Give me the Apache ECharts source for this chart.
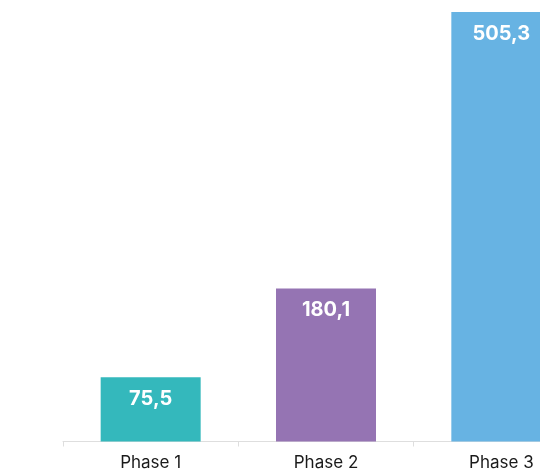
<!DOCTYPE html>
<html><head><meta charset="utf-8">
<script src="https://cdn.jsdelivr.net/npm/echarts@6/dist/echarts.min.js"></script>
<style>html,body{margin:0;padding:0;background:#fff}#c{width:540px;height:473px}</style>
</head><body><div id="c"></div>
<script>
const categories = ['Phase 1', 'Phase 2', 'Phase 3'];
const values = [75.5, 180.1, 505.3];
const colors = ['#34B8BC', '#9574B3', '#67B3E3'];

const chart = echarts.init(document.getElementById('c'), null, {renderer: 'canvas'});
chart.setOption({
  animation: false,
  grid: {left: 63, width: 526, top: 12, bottom: 31.5, outerBoundsMode: 'none', containLabel: false},
  xAxis: {
    type: 'category',
    data: categories,
    axisLine: {lineStyle: {color: '#dedede', width: 1}},
    axisTick: {show: true, alignWithLabel: false, length: 5, lineStyle: {color: '#dedede'}},
    axisLabel: {color: '#1a1a1a', fontSize: 17, fontFamily: 'Inter', margin: 13}
  },
  yAxis: {
    type: 'value',
    min: 0,
    max: function (v) { return v.max; },
    show: false,
    splitLine: {show: false}
  },
  series: [{
    type: 'bar',
    barWidth: 100,
    data: values.map((v, i) => ({value: v, itemStyle: {color: colors[i]}})),
    label: {
      show: true,
      position: 'insideTop',
      distance: 12,
      color: '#fff',
      fontSize: 20,
      fontWeight: 'bold',
      fontFamily: 'Inter',
      formatter: p => String(p.value).replace('.', ',')
    }
  }]
});
</script></body></html>
